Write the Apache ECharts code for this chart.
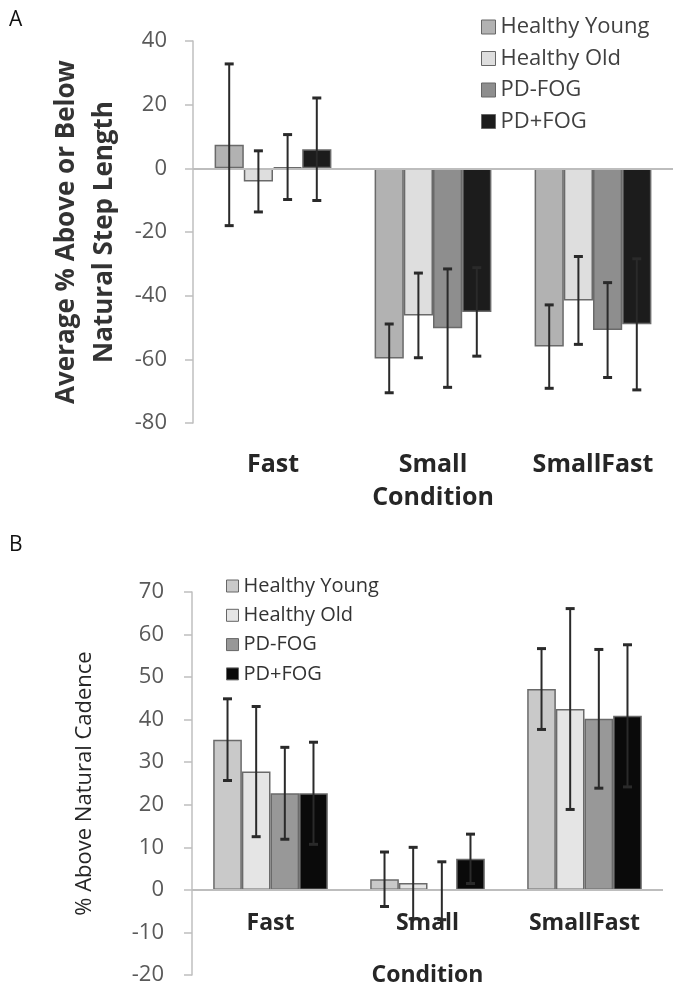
<!DOCTYPE html>
<html>
<head>
<meta charset="utf-8">
<script src="https://cdn.jsdelivr.net/npm/echarts@6/dist/echarts.min.js"></script>
<style>
  html, body { margin: 0; padding: 0; background: #fff; }
  #chart { width: 686px; height: 994px; }
</style>
</head>
<body>
<div id="chart"></div>
<script>
const groups = ['Healthy Young', 'Healthy Old', 'PD-FOG', 'PD+FOG']
const conditions = ['Fast', 'Small', 'SmallFast']

// panel A: average % above or below natural step length
const stepYoung = [7.4, -59.7, -56.0]
const stepOld = [-4.1, -46.2, -41.5]
const stepPdNoFog = [0.4, -50.2, -50.8]
const stepPdFog = [6.0, -45.1, -49.0]
const stepYoungErr = [25.4, 10.8, 13.1]
const stepOldErr = [9.6, 13.3, 13.8]
const stepPdNoFogErr = [10.2, 18.6, 14.9]
const stepPdFogErr = [16.1, 13.9, 20.6]

// panel B: % above natural cadence
const cadYoung = [35.3, 2.5, 47.2]
const cadOld = [27.8, 1.6, 42.5]
const cadPdNoFog = [22.7, -0.2, 40.2]
const cadPdFog = [22.7, 7.3, 40.9]
const cadYoungErr = [9.6, 6.4, 9.5]
const cadOldErr = [15.3, 8.4, 23.6]
const cadPdNoFogErr = [10.8, 6.8, 16.3]
const cadPdFogErr = [12.0, 5.8, 16.7]

const colorsA = ['#b2b2b2', '#dedede', '#8e8e8e', '#1c1c1c']
const colorsB = ['#c9c9c9', '#e5e5e5', '#989898', '#0a0a0a']
const font = 'Open Sans'
const catGap = 0.27

const chart = echarts.init(document.getElementById('chart'))

function barSeries(name, grid, values, color, withZero) {
  const s = {
    type: 'bar',
    name,
    xAxisIndex: grid,
    yAxisIndex: grid,
    data: values,
    barGap: '0%',
    barCategoryGap: catGap * 100 + '%',
    itemStyle: { color, borderColor: '#6a6a6a', borderWidth: 1.5 },
    silent: true,
  }
  if (withZero) {
    // the category axis line sits at zero
    s.markLine = {
      silent: true,
      symbol: ['none', 'none'],
      label: { show: false },
      lineStyle: { color: '#bdbdbd', width: 2, type: 'solid' },
      data: [{ yAxis: 0 }],
    }
  }
  return s
}

function errorSeries(grid, idx, means, errs) {
  return {
    type: 'custom',
    name: 'err' + grid + idx,
    xAxisIndex: grid,
    yAxisIndex: grid,
    z: 10,
    silent: true,
    data: means.map((m, i) => [i, m, errs[i]]),
    renderItem(params, api) {
      const cat = api.value(0)
      const m = api.value(1)
      const e = api.value(2)
      const band = api.size([1, 0])[0]
      const barW = band * (1 - catGap) / 4
      const top = api.coord([cat, m + e])
      const bot = api.coord([cat, m - e])
      const x = top[0] + (idx - 1.5) * barW
      const cap = 4.5
      const st = { stroke: '#2a2a2a', lineWidth: 2 }
      const capSt = { stroke: '#2a2a2a', lineWidth: 3 }
      return {
        type: 'group',
        children: [
          { type: 'line', shape: { x1: x, y1: top[1], x2: x, y2: bot[1] }, style: st },
          { type: 'line', shape: { x1: x - cap, y1: top[1], x2: x + cap, y2: top[1] }, style: capSt },
          { type: 'line', shape: { x1: x - cap, y1: bot[1], x2: x + cap, y2: bot[1] }, style: capSt },
        ],
      }
    },
  }
}

const stepMeans = [stepYoung, stepOld, stepPdNoFog, stepPdFog]
const stepErrs = [stepYoungErr, stepOldErr, stepPdNoFogErr, stepPdFogErr]
const cadMeans = [cadYoung, cadOld, cadPdNoFog, cadPdFog]
const cadErrs = [cadYoungErr, cadOldErr, cadPdNoFogErr, cadPdFogErr]

const series = []
groups.forEach((g, i) => series.push(barSeries(g, 0, stepMeans[i], colorsA[i], i === 0)))
groups.forEach((g, i) => series.push(errorSeries(0, i, stepMeans[i], stepErrs[i])))
groups.forEach((g, i) => series.push(barSeries(g, 1, cadMeans[i], colorsB[i], i === 0)))
groups.forEach((g, i) => series.push(errorSeries(1, i, cadMeans[i], cadErrs[i])))

const yAxisBase = {
  type: 'value',
  axisLine: { show: true, lineStyle: { color: '#bfbfbf', width: 1.5 } },
  axisTick: { show: true, length: 8, lineStyle: { color: '#bfbfbf', width: 1.5 } },
  splitLine: { show: false },
  nameLocation: 'middle',
}

chart.setOption({
  animation: false,
  graphic: [
    { type: 'text', left: 9, top: 10, style: { text: 'A', font: '21px "Open Sans"', fill: '#111' } },
    { type: 'text', left: 9, top: 535, style: { text: 'B', font: '21px "Open Sans"', fill: '#111' } },
  ],
  legend: [
    {
      orient: 'vertical',
      left: 476,
      top: 10,
      itemWidth: 14,
      itemHeight: 14,
      itemGap: 7.5,
      itemTextGap: 6,
      selectedMode: false,
      textStyle: { fontFamily: font, fontSize: 22, lineHeight: 24, color: '#404040' },
      data: groups.map((g, i) => ({
        name: g,
        icon: 'rect',
        itemStyle: { color: colorsA[i], borderColor: '#666', borderWidth: 1 },
      })),
    },
    {
      orient: 'vertical',
      left: 221,
      top: 570,
      itemWidth: 12,
      itemHeight: 12,
      itemGap: 7.3,
      itemTextGap: 9,
      selectedMode: false,
      textStyle: { fontFamily: font, fontSize: 20, lineHeight: 22, color: '#333' },
      data: groups.map((g, i) => ({
        name: g,
        icon: 'rect',
        itemStyle: { color: colorsB[i], borderColor: '#666', borderWidth: 1 },
      })),
    },
  ],
  grid: [
    { left: 193, top: 41, width: 480, height: 382, outerBoundsMode: 'none' },
    { left: 192, top: 592, width: 471, height: 383, outerBoundsMode: 'none' },
  ],
  xAxis: [
    {
      type: 'category',
      gridIndex: 0,
      data: conditions,
      axisLine: { show: false, onZero: false },
      axisTick: { show: false },
      axisLabel: { margin: 29, fontFamily: font, fontSize: 25, fontWeight: 'bold', color: '#262626' },
      name: 'Condition',
      nameLocation: 'middle',
      nameGap: 62,
      nameTextStyle: { fontFamily: font, fontSize: 25, fontWeight: 'bold', color: '#262626' },
    },
    {
      type: 'category',
      gridIndex: 1,
      data: conditions,
      axisLine: { show: false, onZero: false },
      axisTick: { show: false },
      axisLabel: { margin: -63, fontFamily: font, fontSize: 23, fontWeight: 'bold', color: '#262626' },
      name: 'Condition',
      nameLocation: 'middle',
      nameGap: -11,
      nameMoveOverlap: false,
      nameTextStyle: { fontFamily: font, fontSize: 23, fontWeight: 'bold', color: '#262626' },
    },
  ],
  yAxis: [
    Object.assign({}, yAxisBase, {
      gridIndex: 0,
      min: -80,
      max: 40,
      interval: 20,
      axisLabel: { margin: 26, fontFamily: font, fontSize: 22, color: '#595959' },
      name: 'Average % Above or Below\nNatural Step Length',
      nameGap: 62,
      nameTextStyle: { fontFamily: font, fontSize: 26, fontWeight: 'bold', lineHeight: 38, color: '#333' },
    }),
    Object.assign({}, yAxisBase, {
      gridIndex: 1,
      min: -20,
      max: 70,
      interval: 10,
      axisLabel: { margin: 28, fontFamily: font, fontSize: 22, color: '#595959' },
      name: '% Above Natural Cadence',
      nameGap: 96,
      nameTextStyle: { fontFamily: font, fontSize: 22, color: '#262626' },
    }),
  ],
  series,
})
</script>
</body>
</html>
